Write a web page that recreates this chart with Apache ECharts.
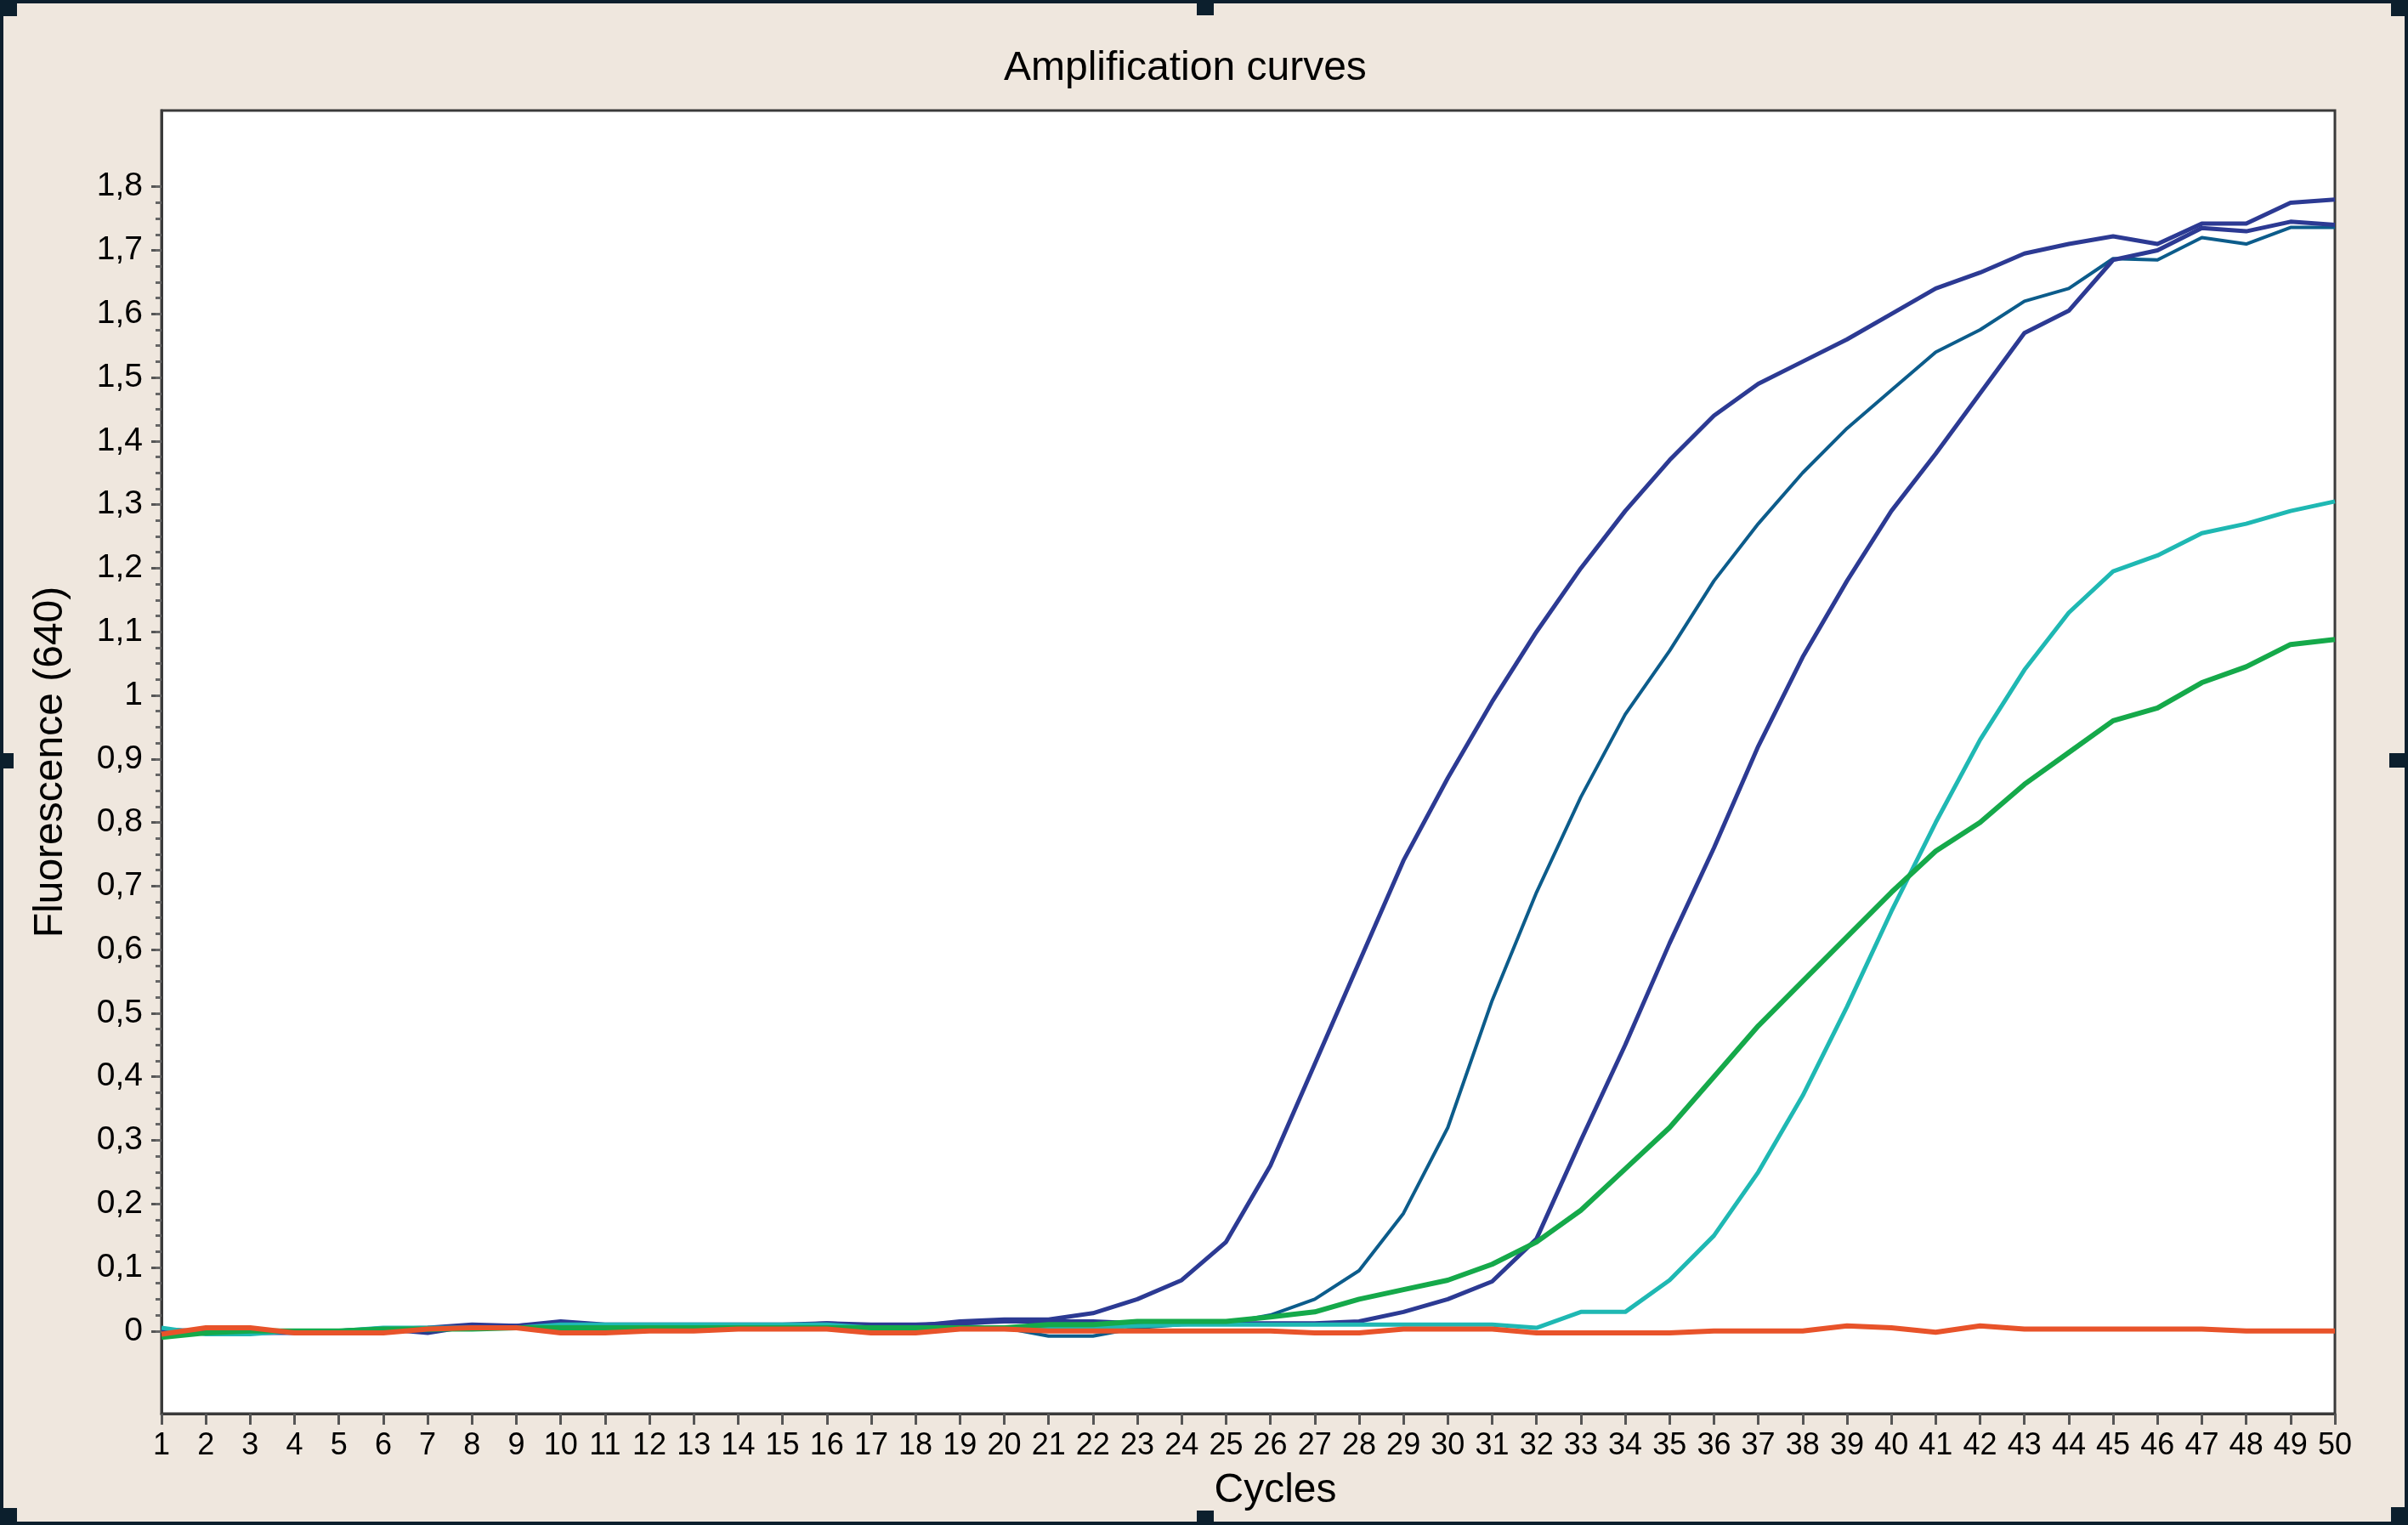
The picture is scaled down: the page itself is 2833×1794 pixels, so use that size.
<!DOCTYPE html>
<html>
<head>
<meta charset="utf-8">
<title>Amplification curves</title>
<script src="https://cdn.jsdelivr.net/npm/echarts@6/dist/echarts.min.js"></script>
<style>
  html, body { margin: 0; padding: 0; background: #efe7de; }
  #chart { width: 2833px; height: 1794px; }
</style>
</head>
<body>
<div id="chart"></div>
<script>
// cycle numbers (x axis)
var cycles = [1, 2, 3, 4, 5, 6, 7, 8, 9, 10, 11, 12, 13, 14, 15, 16, 17, 18, 19, 20,
  21, 22, 23, 24, 25, 26, 27, 28, 29, 30, 31, 32, 33, 34, 35, 36, 37, 38, 39, 40,
  41, 42, 43, 44, 45, 46, 47, 48, 49, 50];

// y tick labels
var yTicks = [0, 0.1, 0.2, 0.3, 0.4, 0.5, 0.6, 0.7, 0.8, 0.9, 1, 1.1, 1.2, 1.3, 1.4, 1.5, 1.6, 1.7, 1.8];

// fluorescence values, one per cycle
var sample1 = [0.000, 0.000, -0.003, -0.003, 0.000, 0.003, -0.003, 0.008, 0.008, 0.012,
  0.005, 0.008, 0.008, 0.008, 0.008, 0.012, 0.008, 0.008, 0.015, 0.018,
  0.018, 0.028, 0.05, 0.08, 0.14, 0.26, 0.42, 0.58, 0.74, 0.87,
  0.99, 1.10, 1.20, 1.29, 1.37, 1.44, 1.49, 1.525, 1.56, 1.60,
  1.64, 1.665, 1.695, 1.71, 1.722, 1.71, 1.742, 1.742, 1.775, 1.78];

var sample2 = [0.003, 0.000, -0.003, 0.000, 0.000, 0.005, 0.000, 0.005, 0.005, 0.010,
  0.008, 0.008, 0.010, 0.010, 0.010, 0.005, 0.005, 0.008, 0.008, 0.005,
  -0.008, -0.008, 0.005, 0.010, 0.012, 0.025, 0.05, 0.095, 0.185, 0.32,
  0.52, 0.69, 0.84, 0.97, 1.07, 1.18, 1.27, 1.35, 1.42, 1.48,
  1.54, 1.575, 1.62, 1.64, 1.687, 1.685, 1.72, 1.71, 1.736, 1.736];

var sample3 = [0.000, 0.000, 0.000, 0.000, 0.000, 0.003, 0.005, 0.010, 0.008, 0.015,
  0.010, 0.010, 0.010, 0.010, 0.010, 0.012, 0.010, 0.010, 0.012, 0.015,
  0.015, 0.015, 0.012, 0.012, 0.012, 0.012, 0.012, 0.015, 0.03, 0.05,
  0.078, 0.145, 0.30, 0.45, 0.61, 0.76, 0.92, 1.06, 1.18, 1.29,
  1.38, 1.475, 1.57, 1.605, 1.685, 1.70, 1.735, 1.73, 1.745, 1.74];

var sample4 = [0.005, -0.005, -0.005, 0.000, 0.000, 0.005, 0.005, 0.005, 0.005, 0.010,
  0.010, 0.010, 0.010, 0.010, 0.010, 0.010, 0.005, 0.005, 0.005, 0.005,
  0.005, 0.005, 0.008, 0.010, 0.010, 0.010, 0.010, 0.010, 0.010, 0.010,
  0.010, 0.005, 0.03, 0.03, 0.08, 0.15, 0.25, 0.37, 0.51, 0.66,
  0.80, 0.93, 1.04, 1.13, 1.195, 1.22, 1.255, 1.27, 1.29, 1.305];

var sample5 = [-0.010, -0.003, 0.000, 0.000, 0.000, 0.003, 0.003, 0.003, 0.005, 0.005,
  0.005, 0.005, 0.005, 0.005, 0.005, 0.005, 0.005, 0.005, 0.005, 0.005,
  0.010, 0.010, 0.015, 0.015, 0.015, 0.022, 0.03, 0.05, 0.065, 0.08,
  0.105, 0.14, 0.19, 0.255, 0.32, 0.40, 0.48, 0.55, 0.62, 0.69,
  0.755, 0.80, 0.86, 0.91, 0.96, 0.98, 1.02, 1.045, 1.08, 1.088];

var negControl = [-0.005, 0.005, 0.005, -0.003, -0.003, -0.003, 0.003, 0.005, 0.005, -0.003,
  -0.003, 0.000, 0.000, 0.003, 0.003, 0.003, -0.003, -0.003, 0.003, 0.003,
  0.000, 0.000, 0.000, 0.000, 0.000, 0.000, -0.003, -0.003, 0.003, 0.003,
  0.003, -0.003, -0.003, -0.003, -0.003, 0.000, 0.000, 0.000, 0.008, 0.005,
  -0.002, 0.008, 0.003, 0.003, 0.003, 0.003, 0.003, 0.000, 0.000, 0.000];

var FONT = "'Liberation Sans', Arial, Helvetica, sans-serif";

function pairs(vals) {
  return cycles.map(function (c, i) { return [c, vals[i]]; });
}

function makeLine(name, vals, color, width) {
  return {
    name: name,
    type: 'line',
    data: pairs(vals),
    showSymbol: false,
    symbol: 'none',
    smooth: false,
    silent: true,
    lineStyle: { color: color, width: width, join: 'round' },
    itemStyle: { color: color }
  };
}

// small ticks every 0.025 on the y axis
var minorTicks = [];
for (var k = 0; k <= 72; k++) {
  minorTicks.push(Math.round(k * 0.025 * 1000) / 1000);
}

var chart = echarts.init(document.getElementById('chart'), null, { renderer: 'canvas' });

var handle = '#0c1f2d';

var option = {
  backgroundColor: '#efe7de',
  animation: false,
  textStyle: { fontFamily: FONT },
  title: {
    text: 'Amplification curves',
    left: 1176,
    top: 52,
    textStyle: { fontFamily: FONT, fontSize: 48, fontWeight: 'normal', color: '#000' }
  },
  grid: {
    left: 190,
    right: 86,
    top: 130,
    bottom: 131,
    show: true,
    backgroundColor: '#ffffff',
    borderColor: '#3a3a3a',
    borderWidth: 3
  },
  xAxis: {
    type: 'value',
    min: 1,
    max: 50,
    interval: 1,
    name: 'Cycles',
    nameLocation: 'middle',
    nameGap: 67,
    nameTextStyle: { fontFamily: FONT, fontSize: 48, color: '#000', padding: [0, 0, 0, 64] },
    axisLine: { show: true, onZero: false, lineStyle: { color: '#3a3a3a', width: 3 } },
    axisTick: { show: true, inside: false, length: 13, lineStyle: { color: '#555', width: 3 } },
    axisLabel: { fontFamily: FONT, fontSize: 36, color: '#000', margin: 20, hideOverlap: false },
    splitLine: { show: false }
  },
  yAxis: [
    {
      type: 'value',
      min: -0.13,
      max: 1.92,
      name: 'Fluorescence (640)',
      nameLocation: 'middle',
      nameGap: 106,
      nameTextStyle: { fontFamily: FONT, fontSize: 48, color: '#000' },
      axisLine: { show: true, onZero: false, lineStyle: { color: '#3a3a3a', width: 3 } },
      axisTick: { show: true, inside: false, length: 12, customValues: yTicks, lineStyle: { color: '#555', width: 3 } },
      axisLabel: {
        fontFamily: FONT, fontSize: 39, color: '#000', margin: 22,
        customValues: yTicks,
        formatter: function (v) { return String(+(+v).toFixed(1)).replace('.', ','); }
      },
      splitLine: { show: false }
    },
    {
      type: 'value',
      min: -0.13,
      max: 1.92,
      position: 'left',
      axisLine: { show: false },
      axisTick: { show: true, inside: false, length: 7, customValues: minorTicks, lineStyle: { color: '#666', width: 3 } },
      axisLabel: { show: false },
      splitLine: { show: false }
    }
  ],
  series: [
    makeLine('Sample 1', sample1, '#2c3a93', 5),
    makeLine('Sample 2', sample2, '#0c5c8b', 4),
    makeLine('Sample 3', sample3, '#2c3a93', 5),
    makeLine('Sample 4', sample4, '#1fb8b3', 5),
    makeLine('Sample 5', sample5, '#15a94a', 6),
    makeLine('Negative control', negControl, '#e8532a', 6)
  ],
  graphic: [
    { type: 'rect', silent: true, shape: { x: 2, y: 2, width: 2829, height: 1790 },
      style: { fill: 'none', stroke: handle, lineWidth: 4 } },
    { type: 'rect', silent: true, shape: { x: 0, y: 0, width: 20, height: 19 }, style: { fill: handle } },
    { type: 'rect', silent: true, shape: { x: 2813, y: 0, width: 20, height: 19 }, style: { fill: handle } },
    { type: 'rect', silent: true, shape: { x: 0, y: 1774, width: 20, height: 20 }, style: { fill: handle } },
    { type: 'rect', silent: true, shape: { x: 2813, y: 1773, width: 20, height: 21 }, style: { fill: handle } },
    { type: 'rect', silent: true, shape: { x: 1408, y: 0, width: 20, height: 18 }, style: { fill: handle } },
    { type: 'rect', silent: true, shape: { x: 1408, y: 1777, width: 20, height: 17 }, style: { fill: handle } },
    { type: 'rect', silent: true, shape: { x: 0, y: 886, width: 16, height: 18 }, style: { fill: handle } },
    { type: 'rect', silent: true, shape: { x: 2811, y: 886, width: 22, height: 17 }, style: { fill: handle } }
  ]
};

chart.setOption(option);
</script>
</body>
</html>
